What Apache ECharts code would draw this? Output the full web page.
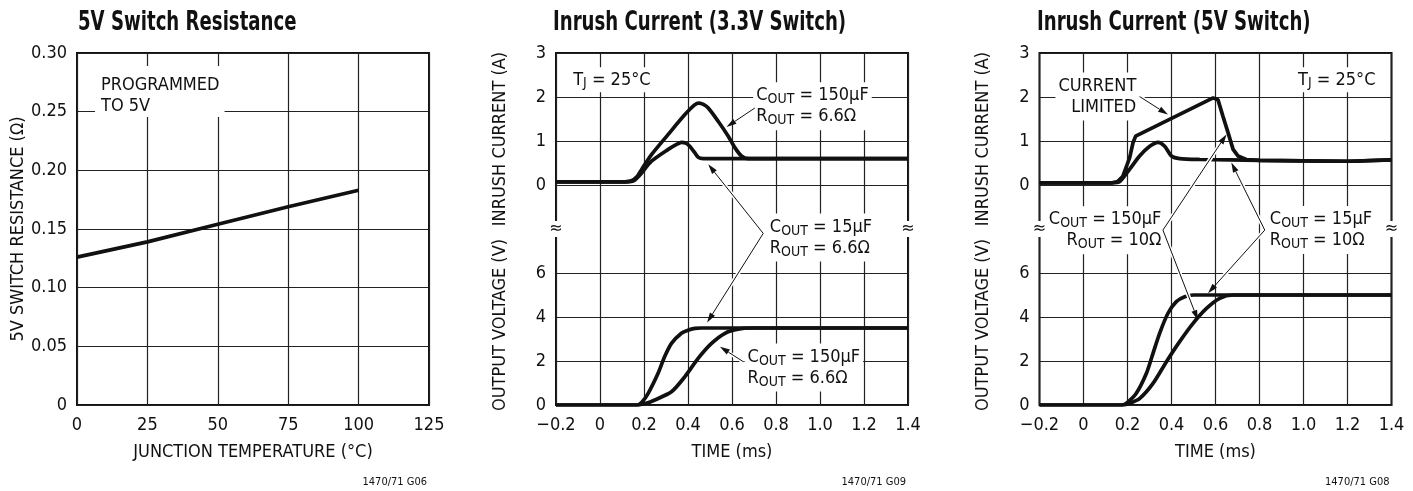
<!DOCTYPE html>
<html>
<head>
<meta charset="utf-8">
<title>LTC1470/71 typical curves</title>
<script src="https://cdn.jsdelivr.net/npm/echarts@6/dist/echarts.min.js"></script>
<style>
  html, body { margin: 0; padding: 0; background: #fff; }
  #main { width: 1413px; height: 491px; }
</style>
</head>
<body>
<div id="main"></div>
<script type="text/javascript">

// ---- 5V switch resistance vs junction temperature
var tempC = [0, 25, 50, 75, 100];
var resOhm = [0.126, 0.139, 0.154, 0.169, 0.183];
var tempTicks = ['0', '25', '50', '75', '100', '125'];
var resTicks = ['0', '0.05', '0.10', '0.15', '0.20', '0.25', '0.30'];

// ---- inrush plots, time in ms
var timeTicks = ['\u22120.2', '0', '0.2', '0.4', '0.6', '0.8', '1.0', '1.2', '1.4'];
var currentTicks = ['0', '1', '2', '3'];
var voltageTicks = ['0', '2', '4', '6'];

// 3.3V switch, inrush current (A)
var t33Cur150 = [-0.2, 0.10, 0.14, 0.17, 0.19, 0.234, 0.31, 0.386, 0.43, 0.45, 0.47, 0.492, 0.537, 0.583, 0.613, 0.643, 0.674, 0.72, 1.4];
var i33Cur150 = [0.07, 0.07, 0.09, 0.20, 0.36, 0.69, 1.15, 1.60, 1.82, 1.86, 1.83, 1.75, 1.45, 1.11, 0.85, 0.66, 0.60, 0.60, 0.60];
var t33Cur15 = [-0.2, 0.10, 0.15, 0.18, 0.234, 0.31, 0.35, 0.37, 0.39, 0.408, 0.43, 0.446, 0.47, 1.4];
var i33Cur15 = [0.07, 0.07, 0.09, 0.22, 0.54, 0.81, 0.93, 0.97, 0.95, 0.88, 0.74, 0.63, 0.60, 0.60];
// 3.3V switch, output voltage (V)
var t33Vol15 = [-0.2, 0.17, 0.19, 0.219, 0.264, 0.294, 0.325, 0.37, 0.40, 0.431, 0.46, 1.4];
var v33Vol15 = [0, 0, 0.12, 0.53, 1.44, 2.20, 2.80, 3.26, 3.40, 3.48, 3.50, 3.50];
var t33Vol150 = [-0.2, 0.17, 0.21, 0.249, 0.325, 0.386, 0.446, 0.507, 0.568, 0.628, 0.689, 1.4];
var v33Vol150 = [0, 0, 0.08, 0.23, 0.60, 1.29, 2.12, 2.80, 3.26, 3.45, 3.50, 3.50];

// 5V switch, inrush current (A)
var t5Cur150 = [-0.2, 0.13, 0.155, 0.179, 0.21, 0.225, 0.237, 0.589, 0.611, 0.634, 0.657, 0.68, 0.702, 0.74, 0.80, 1.0, 1.2, 1.4];
var i5Cur150 = [0.05, 0.05, 0.08, 0.20, 0.62, 0.96, 1.11, 1.98, 1.94, 1.56, 1.19, 0.81, 0.66, 0.58, 0.56, 0.55, 0.54, 0.57];
var t5Cur15 = [-0.2, 0.13, 0.165, 0.21, 0.255, 0.301, 0.339, 0.369, 0.40, 0.437, 0.53, 0.8, 1.0, 1.2, 1.4];
var i5Cur15 = [0.05, 0.05, 0.08, 0.36, 0.66, 0.88, 0.97, 0.88, 0.66, 0.60, 0.58, 0.56, 0.55, 0.54, 0.57];
// 5V switch, output voltage (V)
var t5Vol15 = [-0.2, 0.175, 0.20, 0.24, 0.286, 0.316, 0.346, 0.384, 0.422, 0.46, 0.50, 1.4];
var v5Vol15 = [0, 0, 0.12, 0.53, 1.44, 2.35, 3.26, 4.17, 4.70, 4.92, 5.0, 5.0];
var t5Vol150 = [-0.2, 0.175, 0.21, 0.256, 0.316, 0.377, 0.437, 0.498, 0.559, 0.619, 0.68, 1.4];
var v5Vol150 = [0, 0, 0.08, 0.30, 0.98, 1.97, 2.88, 3.71, 4.39, 4.85, 5.0, 5.0];

var FONT = '"Liberation Sans Narrow", "DejaVu Sans Condensed", "Liberation Sans", sans-serif';
var INK = '#111';
var GRIDC = '#222';

// layout
var GT = 53, GH = 352, GW = 352, SUB = 132;
var LEFTS = [77, 556, 1039.5];

function zip(a, b) {
    var out = [];
    for (var i = 0; i < a.length; i++) out.push([a[i], b[i]]);
    return out;
}
function fmt(arr, min, step) {
    return function (v) { return arr[Math.round((v - min) / step)]; };
}

var labelStyle = { color: INK, fontSize: 18, fontFamily: FONT };
var splitStyle = { show: true, lineStyle: { color: GRIDC, width: 1.2 } };

var grids = [
    { left: LEFTS[0], top: GT, width: GW, height: GH, show: true, borderColor: INK, borderWidth: 2 },
    { left: LEFTS[1], top: GT, width: GW, height: GH, show: true, borderColor: INK, borderWidth: 2 },
    { left: LEFTS[1], top: GT, width: GW, height: SUB },
    { left: LEFTS[1], top: GT + GH - SUB, width: GW, height: SUB },
    { left: LEFTS[2], top: GT, width: GW, height: GH, show: true, borderColor: INK, borderWidth: 2 },
    { left: LEFTS[2], top: GT, width: GW, height: SUB },
    { left: LEFTS[2], top: GT + GH - SUB, width: GW, height: SUB }
];

function timeAxis(gi, visible) {
    return {
        type: 'value', gridIndex: gi, min: -0.2, max: 1.4, interval: 0.2, show: visible,
        axisLine: { show: false }, axisTick: { show: false },
        axisLabel: Object.assign({ margin: 11, formatter: fmt(timeTicks, -0.2, 0.2) }, labelStyle),
        splitLine: splitStyle,
        name: 'TIME (ms)', nameLocation: 'middle', nameGap: 38,
        nameTextStyle: labelStyle
    };
}
function valAxis(gi, max, step, ticks) {
    return {
        type: 'value', gridIndex: gi, min: 0, max: max, interval: step,
        axisLine: { show: false }, axisTick: { show: false },
        axisLabel: Object.assign({ margin: 10, formatter: fmt(ticks, 0, step) }, labelStyle),
        splitLine: splitStyle
    };
}
function hiddenY(gi) {
    return { type: 'value', gridIndex: gi, min: 0, max: 1, show: false };
}

var xAxes = [
    {
        type: 'value', gridIndex: 0, min: 0, max: 125, interval: 25,
        axisLine: { show: false }, axisTick: { show: false },
        axisLabel: Object.assign({ margin: 11, formatter: fmt(tempTicks, 0, 25) }, labelStyle),
        splitLine: splitStyle,
        name: 'JUNCTION TEMPERATURE (\u00B0C)', nameLocation: 'middle', nameGap: 38,
        nameTextStyle: labelStyle
    },
    timeAxis(1, true), timeAxis(2, false), timeAxis(3, false),
    timeAxis(4, true), timeAxis(5, false), timeAxis(6, false)
];
var yAxes = [
    {
        type: 'value', gridIndex: 0, min: 0, max: 0.3, interval: 0.05,
        axisLine: { show: false }, axisTick: { show: false },
        axisLabel: Object.assign({ margin: 10, formatter: fmt(resTicks, 0, 0.05) }, labelStyle),
        splitLine: splitStyle,
        name: '5V SWITCH RESISTANCE (\u03A9)', nameLocation: 'middle', nameGap: 50,
        nameTextStyle: labelStyle
    },
    hiddenY(1),
    valAxis(2, 3, 1, currentTicks),
    valAxis(3, 6, 2, voltageTicks),
    hiddenY(4),
    valAxis(5, 3, 1, currentTicks),
    valAxis(6, 6, 2, voltageTicks)
];

function curve(axis, xs, ys, smooth) {
    return {
        type: 'line', xAxisIndex: axis, yAxisIndex: axis,
        data: zip(xs, ys), symbol: 'none', smooth: smooth,
        lineStyle: { color: INK, width: 3.7 }
    };
}

var series = [
    curve(0, tempC, resOhm, false),
    curve(2, t33Cur150, i33Cur150, 0.25),
    curve(2, t33Cur15, i33Cur15, 0.25),
    curve(3, t33Vol15, v33Vol15, 0.25),
    curve(3, t33Vol150, v33Vol150, 0.25),
    curve(5, t5Cur150, i5Cur150, false),
    curve(5, t5Cur15, i5Cur15, 0.25),
    curve(6, t5Vol15, v5Vol15, 0.25),
    curve(6, t5Vol150, v5Vol150, 0.25)
];

var myChart = echarts.init(document.getElementById('main'), null, { renderer: 'canvas' });
myChart.setOption({
    animation: false,
    backgroundColor: '#fff',
    grid: grids,
    xAxis: xAxes,
    yAxis: yAxes,
    series: series
});

// ---- annotations, placed in data space and converted with the chart's scales
function toPx(g, x, y) {
    return myChart.convertToPixel({ xAxisIndex: g, yAxisIndex: g }, [x, y]);
}

var LH = 21;
var rich = {
    n: { fontSize: 18, fontFamily: FONT, lineHeight: LH, fill: INK },
    s: { fontSize: 14, fontFamily: FONT, lineHeight: LH, fill: INK, padding: [8, 0, 0, 0] }
};
function cr(sub, rest) { return '{n|' + sub[0] + '}{s|' + sub.slice(1) + '}{n|' + rest + '}'; }

// [grid, x, y(center of text block), align, text, padding]
var notes = [
    [0, 8.52, 0.2634, 'left', '{n|PROGRAMMED}\n{n|TO 5V}', [9, 5, 0, 6]],
    [2, -0.122, 2.39, 'left', cr('TJ', ' = 25\u00B0C'), [2, 3, 2, 3]],
    [2, 0.71, 1.79, 'left', cr('COUT', ' = 150\u00B5F') + '\n' + cr('ROUT', ' = 6.6\u03A9'), [3, 3, 3, 3]],
    [3, 0.772, 7.61, 'left', cr('COUT', ' = 15\u00B5F') + '\n' + cr('ROUT', ' = 6.6\u03A9'), [3, 3, 3, 3]],
    [3, 0.671, 1.70, 'left', cr('COUT', ' = 150\u00B5F') + '\n' + cr('ROUT', ' = 6.6\u03A9'), [3, 3, 3, 3]],
    [5, 0.975, 2.39, 'left', cr('TJ', ' = 25\u00B0C'), [2, 3, 2, 3]],
    [5, 0.24, 2.01, 'right', '{n|CURRENT}\n{n|LIMITED}', [3, 3, 3, 3]],
    [6, 0.354, 7.94, 'right', cr('COUT', ' = 150\u00B5F') + '\n' + cr('ROUT', ' = 10\u03A9'), [3, 3, 3, 3]],
    [6, 0.847, 7.95, 'left', cr('COUT', ' = 15\u00B5F') + '\n' + cr('ROUT', ' = 10\u03A9'), [3, 3, 3, 3]]
];

// [[grid, x, y] tail, [grid, x, y] head]
var arrows = [
    [[2, 0.704, 1.75], [2, 0.575, 1.32]],
    [[3, 0.742, 7.8], [2, 0.492, 0.47]],
    [[3, 0.742, 7.8], [3, 0.487, 3.75]],
    [[3, 0.651, 1.97], [3, 0.545, 2.65]],
    [[5, 0.255, 2.01], [5, 0.384, 1.60]],
    [[6, 0.361, 7.95], [5, 0.65, 1.15]],
    [[6, 0.361, 7.95], [6, 0.52, 3.86]],
    [[6, 0.824, 7.95], [5, 0.672, 0.51]],
    [[6, 0.824, 7.95], [6, 0.566, 5.08]]
];

var els = [];

notes.forEach(function (n) {
    var p = toPx(n[0], n[1], n[2]);
    var pad = n[5];
    var lines = n[4].split('\n').length;
    var x = n[3] === 'left' ? p[0] - pad[3] : p[0] + pad[1];
    var y = p[1] - lines * LH / 2 - pad[0];
    els.push({
        type: 'text', x: x, y: y, z: 9, silent: true,
        style: {
            text: n[4], rich: rich, fontSize: 18, fontFamily: FONT, lineHeight: LH,
            align: n[3], verticalAlign: 'top',
            backgroundColor: '#fff', padding: pad, fill: INK
        }
    });
});

arrows.forEach(function (a) {
    var s = toPx(a[0][0], a[0][1], a[0][2]);
    var h = toPx(a[1][0], a[1][1], a[1][2]);
    var dx = h[0] - s[0], dy = h[1] - s[1];
    var len = Math.sqrt(dx * dx + dy * dy);
    var ux = dx / len, uy = dy / len;
    var hl = 10, hw = 3;
    var bx = h[0] - ux * hl, by = h[1] - uy * hl;
    els.push({
        type: 'line', z: 10, silent: true,
        shape: { x1: s[0], y1: s[1], x2: h[0] - ux * 14, y2: h[1] - uy * 14 },
        style: { stroke: '#fff', lineWidth: 4 }
    });
    els.push({
        type: 'line', z: 11, silent: true,
        shape: { x1: s[0], y1: s[1], x2: bx, y2: by },
        style: { stroke: INK, lineWidth: 1 }
    });
    els.push({
        type: 'polygon', z: 11, silent: true,
        shape: { points: [[h[0], h[1]], [bx - uy * hw, by + ux * hw], [bx + uy * hw, by - ux * hw]] },
        style: { fill: INK }
    });
});

// axis break marks and left-hand names of the two inrush plots
[[1, 3], [4, 6]].forEach(function (pair) {
    var g = pair[1];
    var lo = toPx(g, -0.2, 8), hi = toPx(g, 1.4, 8);
    [lo[0], hi[0]].forEach(function (bx) {
        els.push({
            type: 'text', x: bx, y: lo[1], z: 12, silent: true,
            style: {
                text: '\u2248', fontSize: 16, fontFamily: 'DejaVu Sans', fill: INK,
                align: 'center', verticalAlign: 'middle', backgroundColor: '#fff', padding: [0, 1, 0, 1]
            }
        });
    });
    var left = LEFTS[pair[0] === 1 ? 1 : 2];
    els.push({
        type: 'text', x: left - 56, y: GT + 86, rotation: Math.PI / 2, silent: true,
        style: { text: 'INRUSH CURRENT (A)', fontSize: 18, fontFamily: FONT, fill: INK, align: 'center', verticalAlign: 'middle' }
    });
    els.push({
        type: 'text', x: left - 56, y: GT + 272, rotation: Math.PI / 2, silent: true,
        style: { text: 'OUTPUT VOLTAGE (V)', fontSize: 18, fontFamily: FONT, fill: INK, align: 'center', verticalAlign: 'middle' }
    });
});

// titles (squeezed to the narrow face of the original) and figure codes
var titles = ['5V Switch Resistance', 'Inrush Current (3.3V Switch)', 'Inrush Current (5V Switch)'];
var titleX = [78, 553, 1037];
var codes = ['1470/71 G06', '1470/71 G09', '1470/71 G08'];
titles.forEach(function (t, i) {
    els.push({
        type: 'text', x: titleX[i], y: 23.5, scaleX: 0.775, silent: true,
        style: { text: t, fontSize: 26, fontWeight: 'bold', fontFamily: FONT, fill: INK, align: 'left', verticalAlign: 'middle' }
    });
    els.push({
        type: 'text', x: LEFTS[i] + GW - 2, y: 482, silent: true,
        style: { text: codes[i], fontSize: 11, fontFamily: FONT, fill: INK, align: 'right', verticalAlign: 'middle' }
    });
});

myChart.setOption({ graphic: { elements: els } });

</script>
</body>
</html>
